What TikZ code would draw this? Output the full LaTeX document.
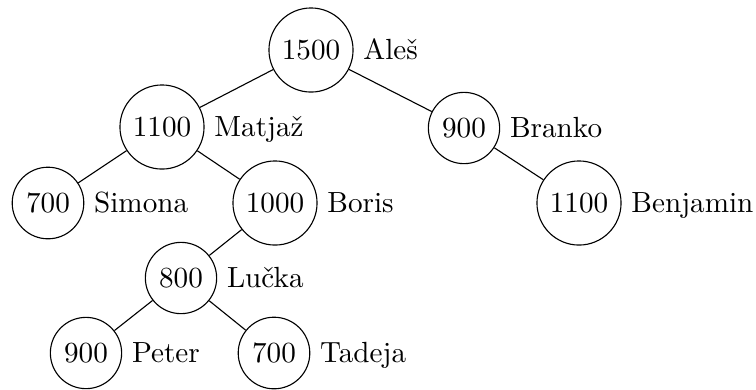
\documentclass[tikz,border=0pt]{standalone}
\usepackage{fontspec}
\begin{document}
\begin{tikzpicture}[x=0.36pt, y=-0.36pt, every node/.style={font=\fontsize{10.5}{12.6}\selectfont}, num/.style={circle, draw, inner sep=3.1pt}, lab/.style={anchor=base west}]
        \useasboundingbox (0,0) rectangle (756,389);
        \node[num] (root) at (311, 50) {1500};
        \node[num] (l) at (162, 127) {1100};
        \node[num] (r) at (464, 128) {900};
        \node[num] (ll) at (48, 203) {700};
        \node[num] (lr) at (275, 203) {1000};
        \node[num] (rr) at (579, 203) {1100};
        \node[num] (lrl) at (181, 278) {800};
        \node[num] (lrll) at (86, 353) {900};
        \node[num] (lrlr) at (274, 353) {700};
        \node[lab] (ales) at (root.east |- root.base) {Aleš};
        \node[lab] (matjaz) at (l.east |- l.base) {Matjaž};
        \node[lab] (branko) at (r.east |- r.base) {Branko};
        \node[lab] (simona) at (ll.east |- ll.base) {Simona};
        \node[lab] (boris) at (lr.east |- lr.base) {Boris};
        \node[lab] (benjamin) at (rr.east |- rr.base) {Benjamin};
        \node[lab] (lucka) at (lrl.east |- lrl.base) {Lučka};
        \node[lab] (peter) at (lrll.east |- lrll.base) {Peter};
        \node[lab] (tadeja) at (lrlr.east |- lrlr.base) {Tadeja};
        \draw (root) -- (l);
        \draw (root) -- (r);
        \draw (l) -- (ll);
        \draw (l) -- (lr);
        \draw (r) -- (rr);
        \draw (lr) -- (lrl);
        \draw (lrl) -- (lrll);
        \draw (lrl) -- (lrlr);
    \end{tikzpicture}
\end{document}
